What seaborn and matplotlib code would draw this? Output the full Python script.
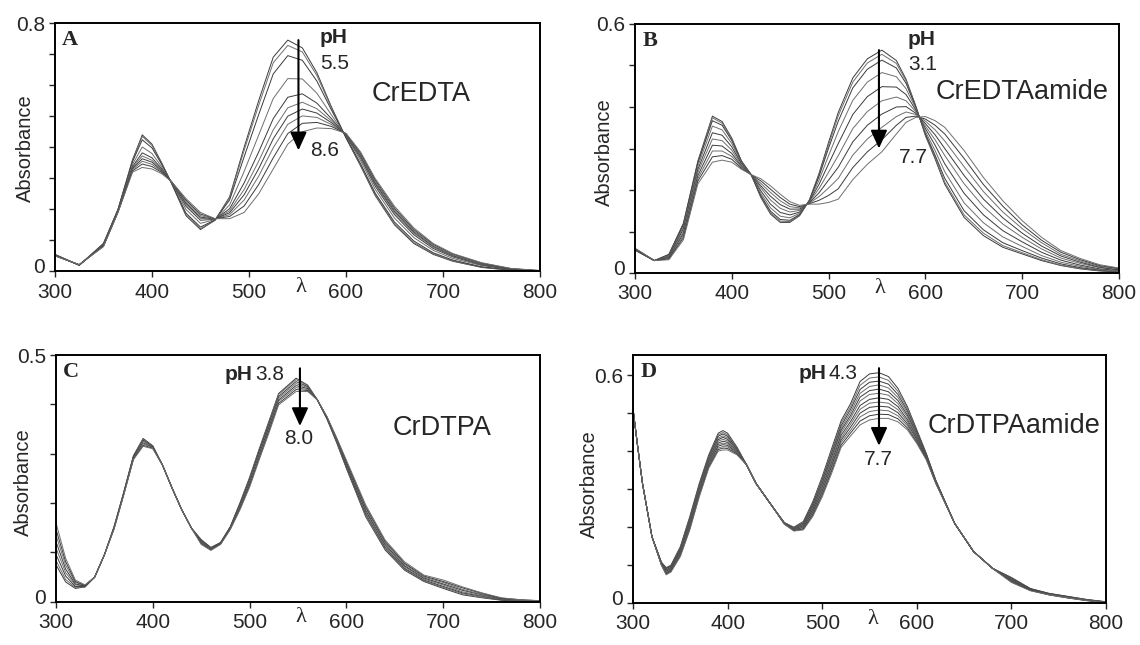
import matplotlib
matplotlib.use('Agg')
import matplotlib.pyplot as plt
import matplotlib.transforms as mtrans
import numpy as np
import pandas as pd
import seaborn as sns

# Absorbance spectra.
# rows = wavelength, columns = spectra in order of rising pH

wl_A = [300, 325, 350, 365, 380, 390, 400, 410, 420, 435, 450, 465, 480, 495, 510,
        525, 540, 555, 570, 585, 600, 615, 630, 650, 670, 690, 710, 740, 770, 800]
abs_A = [
    [.055, .055, .054, .053, .052, .052, .051, .051, .051, .050],
    [.020, .020, .020, .021, .021, .021, .021, .022, .022, .022],
    [.090, .090, .089, .086, .085, .084, .083, .082, .081, .080],
    [.200, .200, .199, .196, .195, .194, .193, .192, .191, .190],
    [.360, .358, .354, .345, .338, .334, .331, .328, .324, .320],
    [.440, .435, .424, .401, .382, .372, .363, .355, .346, .335],
    [.410, .406, .398, .380, .366, .358, .352, .345, .338, .330],
    [.350, .348, .345, .337, .331, .327, .324, .322, .319, .315],
    [.285, .285, .286, .287, .288, .288, .289, .289, .290, .290],
    [.180, .183, .188, .200, .210, .216, .220, .225, .230, .235],
    [.135, .138, .143, .155, .165, .171, .175, .180, .185, .190],
    [.165, .165, .166, .167, .168, .168, .169, .169, .170, .170],
    [.240, .237, .230, .214, .202, .195, .189, .183, .177, .170],
    [.400, .390, .369, .322, .285, .264, .247, .230, .211, .190],
    [.550, .535, .505, .439, .385, .355, .331, .307, .280, .250],
    [.690, .672, .636, .557, .492, .456, .427, .398, .366, .330],
    [.745, .728, .695, .621, .561, .527, .500, .474, .444, .410],
    [.720, .707, .680, .620, .572, .545, .523, .501, .477, .450],
    [.640, .631, .613, .574, .542, .524, .510, .496, .480, .462],
    [.530, .527, .520, .504, .492, .485, .479, .473, .467, .460],
    [.430, .431, .432, .436, .438, .440, .441, .442, .444, .445],
    [.340, .342, .347, .357, .365, .369, .373, .376, .381, .385],
    [.245, .248, .253, .265, .275, .281, .285, .290, .295, .300],
    [.150, .153, .159, .172, .183, .189, .194, .199, .204, .210],
    [.090, .093, .098, .109, .118, .123, .127, .131, .135, .140],
    [.055, .057, .060, .068, .074, .078, .081, .083, .087, .090],
    [.033, .034, .037, .042, .047, .049, .051, .053, .056, .058],
    [.013, .014, .015, .019, .021, .023, .024, .025, .027, .028],
    [.004, .004, .005, .006, .007, .008, .008, .009, .009, .010],
    [.000, .000, .000, .001, .002, .002, .002, .002, .003, .003],
]

wl_B = [300, 320, 335, 350, 365, 380, 390, 400, 410, 420, 430, 440, 450, 460, 470,
        480, 490, 500, 510, 525, 540, 555, 570, 580, 590, 600, 610, 620, 640, 660,
        680, 700, 720, 740, 760, 780, 800]
abs_B = [
    [.055, .055, .056, .056, .057, .058, .058, .059, .059, .060],
    [.030, .030, .030, .030, .030, .030, .030, .030, .030, .030],
    [.045, .044, .044, .042, .040, .039, .037, .035, .034, .032],
    [.120, .118, .116, .111, .106, .100, .095, .090, .085, .080],
    [.270, .268, .265, .258, .250, .243, .235, .228, .222, .215],
    [.378, .374, .367, .354, .338, .323, .308, .294, .280, .267],
    [.365, .361, .356, .345, .332, .319, .306, .294, .283, .272],
    [.325, .323, .319, .312, .304, .296, .288, .281, .274, .267],
    [.270, .269, .268, .266, .263, .260, .257, .255, .252, .250],
    [.237, .237, .237, .237, .237, .237, .237, .237, .237, .237],
    [.182, .184, .187, .192, .198, .205, .210, .216, .222, .227],
    [.142, .145, .149, .157, .166, .176, .185, .194, .202, .210],
    [.122, .125, .129, .137, .146, .156, .165, .174, .182, .190],
    [.122, .124, .127, .133, .140, .147, .154, .160, .166, .172],
    [.138, .139, .141, .144, .147, .151, .154, .157, .160, .163],
    [.175, .175, .174, .173, .172, .171, .169, .168, .167, .166],
    [.239, .236, .232, .223, .213, .203, .193, .184, .175, .166],
    [.315, .309, .301, .283, .263, .243, .224, .205, .187, .170],
    [.387, .379, .366, .341, .312, .283, .255, .228, .203, .178],
    [.470, .460, .446, .416, .382, .348, .316, .284, .254, .225],
    [.516, .506, .491, .460, .425, .389, .356, .323, .292, .262],
    [.537, .527, .513, .483, .449, .415, .383, .351, .321, .292],
    [.512, .505, .494, .473, .448, .424, .400, .377, .356, .335],
    [.467, .463, .457, .444, .430, .415, .401, .388, .375, .363],
    [.403, .402, .400, .397, .393, .389, .385, .382, .378, .375],
    [.331, .333, .336, .341, .348, .354, .360, .366, .371, .377],
    [.275, .279, .284, .295, .308, .321, .333, .345, .356, .367],
    [.214, .219, .228, .244, .263, .283, .300, .318, .335, .351],
    [.134, .140, .150, .169, .192, .215, .235, .256, .276, .295],
    [.090, .096, .104, .121, .140, .160, .178, .196, .213, .230],
    [.062, .066, .073, .087, .102, .118, .133, .147, .161, .174],
    [.046, .049, .054, .064, .075, .086, .096, .107, .116, .126],
    [.030, .032, .036, .042, .050, .058, .065, .073, .079, .086],
    [.018, .019, .022, .026, .031, .036, .041, .045, .050, .054],
    [.010, .011, .013, .016, .019, .023, .026, .029, .032, .035],
    [.005, .006, .007, .008, .010, .013, .014, .016, .018, .020],
    [.002, .002, .003, .004, .006, .007, .008, .010, .011, .012],
]

wl_C = [300, 310, 320, 330, 340, 350, 360, 370, 380, 390, 400, 410, 420, 430, 440,
        450, 460, 470, 480, 490, 500, 510, 520, 530, 548, 560, 570, 580, 590, 600,
        620, 640, 660, 680, 700, 720, 740, 760, 780, 800]
abs_C = [
    [.075, .084, .096, .109, .122, .135, .147, .160],
    [.040, .045, .052, .059, .066, .074, .081, .088],
    [.027, .029, .031, .034, .036, .039, .041, .044],
    [.030, .030, .031, .032, .032, .033, .033, .034],
    [.050, .050, .050, .050, .050, .050, .050, .050],
    [.095, .095, .095, .095, .095, .095, .095, .095],
    [.152, .152, .151, .150, .149, .149, .148, .147],
    [.222, .221, .221, .220, .219, .218, .217, .216],
    [.296, .295, .294, .293, .292, .290, .289, .288],
    [.331, .329, .327, .325, .322, .320, .317, .315],
    [.316, .315, .315, .314, .313, .312, .311, .310],
    [.277, .277, .277, .277, .277, .277, .277, .277],
    [.230, .230, .230, .230, .230, .230, .230, .230],
    [.186, .186, .186, .186, .186, .186, .186, .186],
    [.149, .149, .149, .149, .149, .149, .149, .149],
    [.126, .125, .124, .122, .121, .119, .118, .116],
    [.110, .109, .109, .108, .107, .106, .105, .104],
    [.120, .120, .119, .118, .118, .117, .117, .116],
    [.152, .151, .151, .150, .149, .148, .147, .146],
    [.200, .199, .197, .194, .192, .190, .188, .186],
    [.252, .250, .247, .244, .241, .238, .235, .232],
    [.310, .308, .305, .301, .298, .295, .291, .288],
    [.366, .364, .360, .356, .353, .349, .346, .342],
    [.422, .420, .416, .413, .409, .406, .402, .399],
    [.453, .450, .446, .442, .438, .434, .430, .426],
    [.439, .438, .436, .434, .432, .430, .428, .426],
    [.409, .409, .409, .409, .409, .409, .409, .409],
    [.370, .371, .371, .372, .373, .374, .374, .375],
    [.322, .323, .325, .326, .328, .329, .331, .332],
    [.270, .272, .274, .277, .279, .282, .284, .287],
    [.172, .174, .178, .182, .185, .189, .192, .196],
    [.105, .107, .110, .113, .116, .119, .122, .125],
    [.064, .066, .068, .071, .073, .076, .078, .081],
    [.041, .042, .044, .046, .048, .050, .052, .054],
    [.027, .029, .031, .034, .036, .039, .041, .044],
    [.014, .016, .018, .020, .023, .025, .028, .030],
    [.008, .009, .011, .012, .014, .015, .017, .018],
    [.003, .004, .004, .005, .006, .007, .007, .008],
    [.001, .001, .002, .002, .003, .003, .004, .004],
    [.000, .000, .001, .001, .001, .001, .002, .002],
]

wl_D = [300, 305, 310, 320, 330, 335, 340, 350, 360, 370, 380, 390, 395, 400, 410,
        420, 430, 440, 450, 460, 470, 480, 490, 500, 510, 520, 530, 540, 550, 560,
        570, 580, 590, 600, 610, 620, 640, 660, 680, 700, 720, 740, 760, 780, 800]
abs_D = [
    [.510, .510, .510, .510, .510, .510, .510, .510, .510, .510, .510, .510],
    [.410, .410, .410, .410, .410, .410, .410, .410, .410, .410, .410, .410],
    [.315, .315, .315, .315, .315, .315, .315, .315, .315, .315, .315, .315],
    [.175, .175, .175, .175, .175, .175, .175, .175, .175, .175, .175, .175],
    [.108, .107, .107, .106, .105, .104, .104, .103, .102, .101, .101, .100],
    [.094, .092, .091, .089, .087, .085, .084, .082, .080, .078, .077, .075],
    [.100, .098, .097, .095, .094, .092, .090, .088, .087, .085, .084, .082],
    [.149, .147, .144, .142, .140, .137, .135, .132, .130, .128, .125, .123],
    [.228, .225, .222, .219, .215, .212, .209, .206, .202, .199, .196, .193],
    [.315, .312, .309, .306, .302, .299, .296, .293, .289, .286, .283, .280],
    [.390, .387, .384, .381, .377, .374, .371, .368, .364, .361, .358, .355],
    [.447, .443, .439, .434, .430, .426, .421, .417, .413, .408, .404, .400],
    [.454, .449, .445, .440, .436, .431, .426, .421, .417, .412, .408, .403],
    [.447, .443, .439, .435, .431, .427, .423, .419, .415, .411, .407, .403],
    [.410, .408, .406, .405, .403, .401, .399, .397, .395, .394, .392, .390],
    [.364, .364, .364, .364, .364, .364, .364, .364, .364, .364, .364, .364],
    [.315, .315, .315, .315, .315, .315, .315, .315, .315, .315, .315, .315],
    [.280, .280, .280, .280, .280, .280, .280, .280, .280, .280, .280, .280],
    [.245, .245, .245, .245, .245, .245, .245, .245, .245, .245, .245, .245],
    [.212, .212, .211, .211, .211, .210, .210, .209, .209, .209, .208, .208],
    [.200, .199, .198, .197, .196, .196, .195, .194, .193, .192, .191, .190],
    [.215, .213, .211, .209, .207, .205, .203, .201, .199, .197, .195, .193],
    [.267, .263, .260, .256, .253, .249, .246, .242, .239, .235, .232, .228],
    [.333, .328, .323, .319, .314, .309, .304, .299, .294, .290, .285, .280],
    [.407, .401, .395, .389, .384, .378, .371, .365, .360, .354, .348, .342],
    [.480, .474, .467, .461, .455, .449, .442, .435, .429, .423, .416, .410],
    [.525, .517, .510, .502, .494, .487, .478, .471, .463, .455, .448, .440],
    [.583, .573, .562, .552, .542, .532, .520, .510, .500, .490, .479, .469],
    [.603, .592, .581, .570, .559, .549, .536, .526, .515, .504, .493, .482],
    [.606, .595, .584, .574, .563, .552, .540, .529, .518, .508, .497, .486],
    [.596, .586, .576, .566, .556, .547, .536, .526, .516, .506, .496, .486],
    [.565, .557, .549, .541, .533, .525, .517, .509, .501, .493, .485, .477],
    [.517, .512, .506, .501, .495, .490, .483, .478, .472, .467, .461, .456],
    [.456, .453, .450, .446, .443, .440, .436, .433, .430, .426, .423, .420],
    [.394, .392, .391, .389, .388, .386, .385, .383, .382, .380, .379, .377],
    [.324, .323, .322, .322, .321, .320, .319, .318, .317, .317, .316, .315],
    [.210, .210, .210, .210, .210, .210, .210, .210, .210, .210, .210, .210],
    [.136, .136, .136, .136, .136, .136, .136, .136, .136, .136, .136, .136],
    [.092, .092, .092, .092, .092, .092, .092, .092, .092, .092, .092, .092],
    [.068, .067, .066, .064, .063, .062, .061, .060, .059, .057, .056, .055],
    [.039, .038, .038, .037, .037, .036, .036, .035, .035, .034, .034, .033],
    [.026, .026, .025, .025, .025, .024, .024, .023, .023, .023, .022, .022],
    [.018, .018, .017, .017, .017, .016, .016, .015, .015, .015, .014, .014],
    [.010, .010, .009, .009, .009, .009, .008, .008, .008, .008, .007, .007],
    [.004, .004, .004, .003, .003, .003, .003, .003, .003, .002, .002, .002],
]

names = ['CrEDTA', 'CrEDTAamide', 'CrDTPA', 'CrDTPAamide']
letters = ['A', 'B', 'C', 'D']
ph_start = ['5.5', '3.1', '3.8', '4.3']
ph_end = ['8.6', '7.7', '8.0', '7.7']
y_top = [0.8, 0.6, 0.5, 0.6]


def long_form(wl, rows):
    arr = np.array(rows)
    parts = []
    for j in range(arr.shape[1]):
        parts.append(pd.DataFrame({'wl': wl, 'absorb': arr[:, j], 'curve': j}))
    return pd.concat(parts, ignore_index=True)


sns.set_style('ticks')
plt.rcParams['font.family'] = ['Liberation Sans', 'DejaVu Sans']
serif = ['Liberation Serif', 'DejaVu Serif']

fig = plt.figure(figsize=(11.4, 6.45), dpi=100)

# axes boxes in figure fractions
boxes = [
    [0.0482, 0.5791, 0.4255, 0.3852],
    [0.5570, 0.5767, 0.4246, 0.3861],
    [0.0491, 0.0671, 0.4246, 0.3825],
    [0.5553, 0.0646, 0.4149, 0.3850],
]
ylims = [0.8, 0.6, 0.5, 0.6526]
ylab_x = [-0.041, -0.043, -0.048, -0.072]
ylab_y = [0.497, 0.487, 0.483, 0.48]

data = [(wl_A, abs_A), (wl_B, abs_B), (wl_C, abs_C), (wl_D, abs_D)]
txt = 15
big = 19.5
nudge_up = mtrans.ScaledTranslation(0, 4 / 72, fig.dpi_scale_trans)

for i, (wl, rows) in enumerate(data):
    ax = fig.add_axes(boxes[i])
    df = long_form(wl, rows)
    n = df['curve'].nunique()
    pal = ['#3a3a3a' if k % 2 == 0 else '#6e6e6e' for k in range(n)]
    sns.lineplot(data=df, x='wl', y='absorb', hue='curve', palette=pal,
                 legend=False, estimator=None, sort=False, linewidth=0.7, ax=ax)

    ax.set_xlim(300, 800)
    ax.set_ylim(0, ylims[i])
    ax.set_xticks([300, 400, 500, 600, 700, 800])
    steps = int(round(y_top[i] * 10))
    yt = [k / 10 for k in range(steps + 1)]
    ax.set_yticks(yt)
    ax.set_yticklabels(['0'] + [''] * (steps - 1) + [f'{y_top[i]:g}'])
    ax.tick_params(direction='out', length=4, width=1, labelsize=15)
    ax.tick_params(axis='x', pad=4)
    ax.tick_params(axis='y', pad=3)
    # lift the "0" label a little so it clears the "300" below it
    zero_lab = ax.get_yticklabels()[0]
    zero_lab.set_transform(zero_lab.get_transform() + nudge_up)
    for s in ax.spines.values():
        s.set_visible(True)
        s.set_linewidth(1.4)
        s.set_color('black')

    ax.set_xlabel('')
    ax.set_ylabel('Absorbance', fontsize=14.5)
    ax.yaxis.set_label_coords(ylab_x[i], ylab_y[i])

    ax.text(553, -0.025, 'λ', transform=ax.get_xaxis_transform(), ha='center',
            va='top', fontsize=16, family=serif)
    ax.text(0.015, 0.93, letters[i], transform=ax.transAxes, ha='left', va='center',
            fontsize=16, fontweight='bold', family=serif)

    if i == 0:
        x_arr, y0, y1 = 551, 0.745, 0.39
        ax.text(573, 0.755, 'pH', fontsize=txt, fontweight='bold', ha='left', va='center')
        ax.text(573, 0.67, ph_start[i], fontsize=txt, ha='left', va='center')
        ax.text(563, 0.39, ph_end[i], fontsize=txt, ha='left', va='center')
        ax.text(626, 0.572, names[i], fontsize=big, ha='left', va='center')
    elif i == 1:
        x_arr, y0, y1 = 552, 0.537, 0.300
        ax.text(582, 0.562, 'pH', fontsize=txt, fontweight='bold', ha='left', va='center')
        ax.text(582, 0.503, ph_start[i], fontsize=txt, ha='left', va='center')
        ax.text(573, 0.279, ph_end[i], fontsize=txt, ha='left', va='center')
        ax.text(611, 0.435, names[i], fontsize=big, ha='left', va='center')
    elif i == 2:
        x_arr, y0, y1 = 552, 0.473, 0.356
        ax.text(503, 0.461, 'pH', fontsize=txt, fontweight='bold', ha='right', va='center')
        ax.text(506, 0.461, ph_start[i], fontsize=txt, ha='left', va='center')
        ax.text(551, 0.331, ph_end[i], fontsize=txt, ha='center', va='center')
        ax.text(648, 0.353, names[i], fontsize=big, ha='left', va='center')
    else:
        x_arr, y0, y1 = 560, 0.618, 0.414
        ax.text(504, 0.603, 'pH', fontsize=txt, fontweight='bold', ha='right', va='center')
        ax.text(507, 0.603, ph_start[i], fontsize=txt, ha='left', va='center')
        ax.text(559, 0.377, ph_end[i], fontsize=txt, ha='center', va='center')
        ax.text(611, 0.465, names[i], fontsize=big, ha='left', va='center')

    ax.annotate('', xy=(x_arr, y1), xytext=(x_arr, y0),
                arrowprops=dict(arrowstyle='-|>,head_width=0.25,head_length=0.55',
                                color='black', lw=1.5, mutation_scale=20,
                                shrinkA=0, shrinkB=0))

fig.savefig('out.png', dpi=100)
